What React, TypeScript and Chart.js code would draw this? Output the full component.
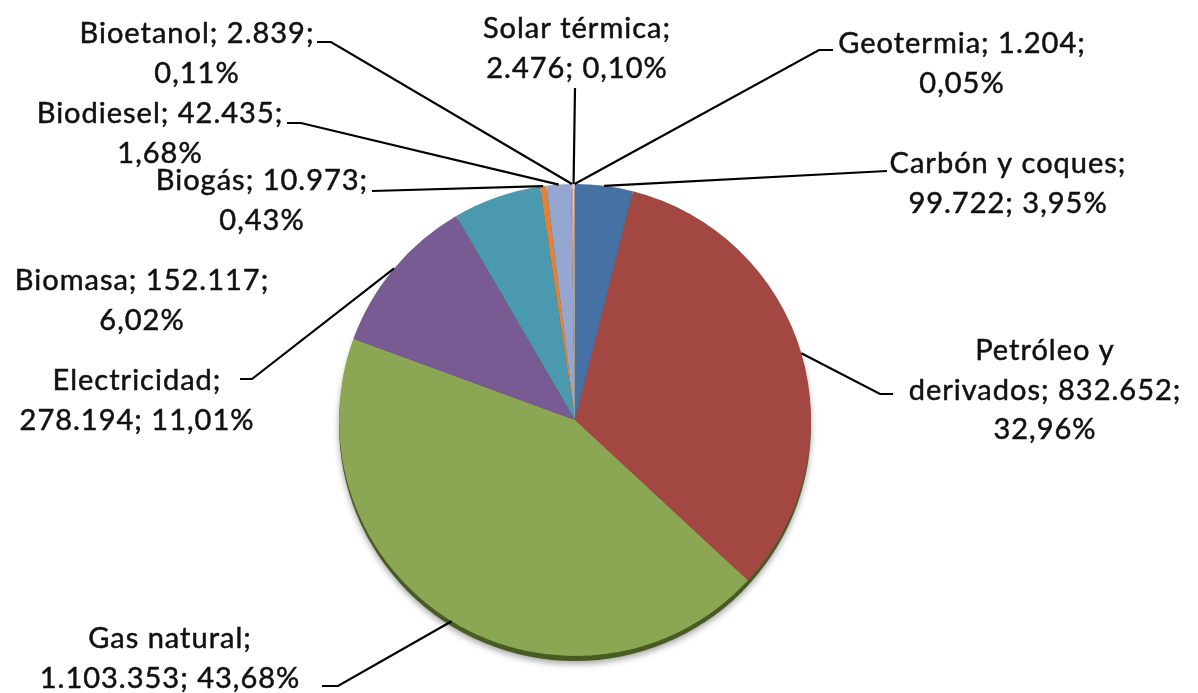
import React, { useEffect, useRef } from "react";
import { Chart, registerables } from "chart.js";

Chart.register(...registerables);

// ---- Data ----
const categories = [
  "Carbón y coques",
  "Petróleo y derivados",
  "Gas natural",
  "Electricidad",
  "Biomasa",
  "Biogás",
  "Biodiesel",
  "Bioetanol",
  "Solar térmica",
  "Geotermia",
];
const values = [99722, 832652, 1103353, 278194, 152117, 10973, 42435, 2839, 2476, 1204];
const sliceColors = [
  "#4671A5",
  "#A34743",
  "#8BA753",
  "#775B92",
  "#4B99AF",
  "#E3823A",
  "#95A7D1",
  "#D9A09C",
  "#C9D7A8",
  "#B7A6CB",
];
// words per line for each label ("name; value; pct")
const lineBreaks = [[3, 2], [2, 2, 1], [2, 2], [1, 2], [2, 1], [2, 1], [2, 1], [2, 1], [2, 2], [2, 1]];

// ---- Layout (label placement, not data) ----
const W = 1198;
const H = 693;
const FONT = '29px Lato, "Open Sans", sans-serif';
const LETTER_SPACING = "1px";
const LINE_H = 39.5;
type LabelPos = { cx: number; y0: number; elbow?: [number, number]; end?: [number, number] };
const labelLayout: LabelPos[] = [
  { cx: 1008, y0: 173, elbow: [887, 171], end: [887, 171] },
  { cx: 1045, y0: 360, elbow: [880, 394], end: [893, 394] },
  { cx: 170, y0: 648, elbow: [338, 686], end: [322, 686] },
  { cx: 137, y0: 390, elbow: [252, 379], end: [240, 379] },
  { cx: 142, y0: 290 },
  { cx: 262, y0: 190, elbow: [372, 191], end: [372, 191] },
  { cx: 160, y0: 123, elbow: [301, 123], end: [287, 123] },
  { cx: 197, y0: 43, elbow: [331, 42], end: [317, 42] },
  { cx: 577, y0: 38, elbow: [575, 88], end: [575, 88] },
  { cx: 962, y0: 53, elbow: [819, 50], end: [833, 50] },
];

const fmtThousands = (n: number) => String(n).replace(/\B(?=(\d{3})+(?!\d))/g, ".");
const total = values.reduce((a, b) => a + b, 0);
const fmtPct = (n: number) => ((n / total) * 100).toFixed(2).replace(".", ",") + "%";

function labelLines(i: number): string[] {
  const tokens = `${categories[i]}; ${fmtThousands(values[i])}; ${fmtPct(values[i])}`.split(" ");
  const out: string[] = [];
  let k = 0;
  for (const c of lineBreaks[i]) {
    out.push(tokens.slice(k, k + c).join(" "));
    k += c;
  }
  return out;
}

const shadowPlugin = {
  id: "pieShadow",
  beforeDatasetsDraw(chart: any) {
    const arc = chart.getDatasetMeta(0).data[0];
    if (!arc) return;
    const { ctx } = chart;
    ctx.save();
    ctx.shadowColor = "rgba(0,0,0,0.35)";
    ctx.shadowBlur = 6;
    ctx.shadowOffsetY = 3;
    ctx.fillStyle = "#4a5a24";
    ctx.beginPath();
    ctx.arc(arc.x, arc.y + 5, arc.outerRadius, 0, Math.PI * 2);
    ctx.fill();
    ctx.restore();
  },
};

const labelPlugin = {
  id: "pieLabels",
  afterDatasetsDraw(chart: any) {
    const { ctx } = chart;
    const arcs = chart.getDatasetMeta(0).data;
    ctx.save();
    ctx.strokeStyle = "#000";
    ctx.lineWidth = 2.2;
    arcs.forEach((arc: any, i: number) => {
      const lay = labelLayout[i];
      if (lay.elbow && lay.end) {
        const mid = (arc.startAngle + arc.endAngle) / 2;
        const px = arc.x + Math.cos(mid) * arc.outerRadius;
        const py = arc.y + Math.sin(mid) * arc.outerRadius;
        ctx.beginPath();
        ctx.moveTo(px, py);
        ctx.lineTo(lay.elbow[0], lay.elbow[1]);
        ctx.lineTo(lay.end[0], lay.end[1]);
        ctx.stroke();
      }
    });
    ctx.font = FONT;
    (ctx as any).letterSpacing = LETTER_SPACING;
    ctx.fillStyle = "#111";
    ctx.strokeStyle = "#111";
    ctx.lineWidth = 0.5;
    ctx.textAlign = "center";
    ctx.textBaseline = "alphabetic";
    arcs.forEach((_arc: any, i: number) => {
      const lay = labelLayout[i];
      labelLines(i).forEach((t, j) => {
        ctx.fillText(t, lay.cx, lay.y0 + j * LINE_H);
        ctx.strokeText(t, lay.cx, lay.y0 + j * LINE_H);
      });
    });
    ctx.restore();
  },
};

export default function App() {
  const ref = useRef<HTMLCanvasElement | null>(null);
  useEffect(() => {
    if (!ref.current) return;
    const chart = new Chart(ref.current, {
      type: "pie",
      data: {
        labels: categories,
        datasets: [
          {
            data: values,
            backgroundColor: sliceColors,
            borderWidth: 0,
          },
        ],
      },
      options: {
        responsive: false,
        animation: false,
        layout: { padding: { left: 339, right: 387, top: 184, bottom: 37 } },
        plugins: {
          legend: { display: false },
          tooltip: { enabled: false },
        },
      },
      plugins: [shadowPlugin, labelPlugin],
    });
    return () => chart.destroy();
  }, []);
  return (
    <div style={{ position: "absolute", left: 0, top: 0, width: W, height: H, background: "#fff" }}>
      <canvas ref={ref} width={W} height={H} />
    </div>
  );
}
